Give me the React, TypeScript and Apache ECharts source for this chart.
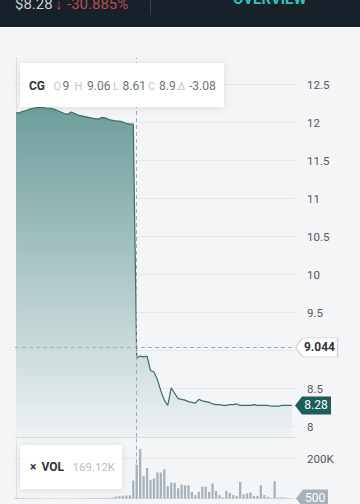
import React, { useEffect, useRef } from "react";
import * as echarts from "echarts";

// ---- data ----
const prices = [
  12.13, 12.13, 12.15, 12.16, 12.18, 12.19, 12.2, 12.2, 12.2, 12.19,
  12.19, 12.18, 12.16, 12.14, 12.12, 12.11, 12.14, 12.12, 12.1, 12.09,
  12.08, 12.07, 12.06, 12.05, 12.05, 12.07, 12.06, 12.04, 12.03, 12.02,
  12.02, 12.01, 11.99, 11.98, 11.98,
  8.9, 8.93, 8.92, 8.93, 8.74, 8.72, 8.62, 8.47, 8.35, 8.28,
  8.51, 8.44, 8.37, 8.36, 8.35, 8.33, 8.32, 8.31, 8.36, 8.34,
  8.33, 8.32, 8.3, 8.29, 8.29, 8.28, 8.28, 8.29, 8.29, 8.3,
  8.28, 8.28, 8.28, 8.28, 8.29, 8.28, 8.28, 8.28, 8.28, 8.27,
  8.27, 8.27, 8.28, 8.28, 8.28, 8.28,
];
const volumes = [
  4000, 3000, 3000, 0, 2000, 0, 2000, 0, 0, 0,
  1500, 0, 0, 0, 0, 0, 0, 1500, 0, 2000,
  0, 2500, 2000, 3000, 2500, 3500, 3000, 4000, 5000, 10000,
  12000, 14000, 15000, 16000, 90000,
  169120, 247000, 112000, 153000, 92000, 100000, 130000, 130000, 146000, 62000,
  79000, 79000, 51000, 70000, 66000, 66000, 33000, 17000, 33000, 59000,
  59000, 33000, 75000, 38000, 17000, 5000, 38000, 28000, 17000, 13000,
  83000, 20000, 25000, 30000, 13000, 13000, 66000, 17000, 8000, 3000,
  87000, 5000, 5000, 5000, 2000, 500,
];
// grid lines of the price axis, and the labels shown (9 is hidden under the crosshair tag)
const priceTicks = [8, 8.5, 9, 9.5, 10, 10.5, 11, 11.5, 12, 12.5];
const priceLabels = [8, 8.5, 9.5, 10, 10.5, 11, 11.5, 12, 12.5];
const volumeTicks = [200000];
const priceMin = 7.865;
const priceMax = 12.851;
const volumeMin = 0;
const volumeMax = 300000;
const indexMin = -0.3;
const indexMax = 80.9;
const crosshairIndex = 35;
const crosshairPrice = 9.044;
const lastPrice = 8.28;
const lastVolume = 500;
const tickerName = "CG";
const ohlcKeys = ["O", "H", "L", "C", "Δ"];
const ohlcValues = ["9", "9.06", "8.61", "8.9", "-3.08"];
const volName = "VOL";
const volValue = "169.12K";
const headerPrice = "$8.28";
const headerChange = "-30.885%";
const tabLabel = "OVERVIEW";

const FONT = "Roboto, 'Noto Sans', sans-serif";

function tagPath(w: number, h: number) {
  return `path://M0,${h / 2} L7,0 L${w},0 L${w},${h} L7,${h} Z`;
}

function txt(
  x: number,
  y: number,
  text: string,
  fill: string,
  size: number,
  weight: string | number = "normal"
) {
  return {
    type: "text",
    x,
    y,
    z: 100,
    silent: true,
    style: {
      text,
      fill,
      font: `${weight} ${size}px ${FONT}`,
      textVerticalAlign: "middle",
      textAlign: "left",
    },
  };
}

export default function App() {
  const ref = useRef<HTMLDivElement>(null);

  useEffect(() => {
    if (!ref.current) return;
    const chart = echarts.init(ref.current, undefined, { renderer: "svg" });

    const pricePairs = prices.map((v, i) => [i, v]);
    const volumePairs = volumes.map((v, i) => [i, v]);

    const dashed = { type: [4, 3], color: "#a3acb4", width: 1 };

    const keyXs = [53.5, 74.5, 113, 148, 177.5];
    const valueXs = [62.5, 87, 122.5, 159, 189];

    const graphics: any[] = [
      // header
      {
        type: "rect",
        z: 100,
        silent: true,
        shape: { x: 0, y: 0, width: 360, height: 27 },
        style: { fill: "#18212a" },
      },
      txt(15, 4, headerPrice, "#c9ced3", 15),
      txt(55, 4, "↓", "#cf4a4a", 15, "bold"),
      txt(67, 4, headerChange, "#b94c4e", 15),
      {
        type: "line",
        z: 100,
        silent: true,
        shape: { x1: 150.5, y1: 0, x2: 150.5, y2: 15 },
        style: { stroke: "#38424c", lineWidth: 1 },
      },
      txt(233, -1.5, tabLabel, "#2fc4bd", 15, "bold"),
      // OHLC box
      {
        type: "rect",
        z: 99,
        silent: true,
        shape: { x: 20, y: 63, width: 204, height: 44, r: 1 },
        style: {
          fill: "#ffffff",
          shadowBlur: 8,
          shadowColor: "rgba(0,0,0,0.10)",
          shadowOffsetY: 1,
        },
      },
      txt(29, 86, tickerName, "#2d3237", 12, "bold"),
      ...ohlcKeys.map((k, i) => txt(keyXs[i], 86, k, "#c2c7cc", 11)),
      ...ohlcValues.map((v, i) => txt(valueXs[i], 86, v, "#6d7379", 12)),
      // VOL box
      {
        type: "rect",
        z: 99,
        silent: true,
        shape: { x: 20, y: 445, width: 102, height: 44, r: 1 },
        style: {
          fill: "#ffffff",
          shadowBlur: 8,
          shadowColor: "rgba(0,0,0,0.10)",
          shadowOffsetY: 1,
        },
      },
      txt(30, 466.5, "×", "#2d3237", 12, "bold"),
      txt(41.5, 467, volName, "#2d3237", 12, "bold"),
      txt(72.5, 467, volValue, "#b9bec3", 11.5),
    ];

    const option: any = {
      animation: false,
      backgroundColor: "#f4f5f7",
      textStyle: { fontFamily: FONT },
      grid: [
        { left: 15, right: 65, top: 58, height: 379 },
        { left: 15, right: 65, top: 438.5, height: 60 },
      ],
      xAxis: [
        {
          type: "value",
          gridIndex: 0,
          min: indexMin,
          max: indexMax,
          axisLine: { show: true, onZero: false, lineStyle: { color: "#d6dbe0" } },
          axisTick: { show: false },
          axisLabel: { show: false },
          splitLine: { show: false },
        },
        {
          type: "value",
          gridIndex: 1,
          min: indexMin,
          max: indexMax,
          axisLine: { show: true, onZero: false, lineStyle: { color: "#dde1e5" } },
          axisTick: { show: false },
          axisLabel: { show: false },
          splitLine: { show: false },
        },
      ],
      yAxis: [
        {
          type: "value",
          gridIndex: 0,
          position: "right",
          min: priceMin,
          max: priceMax,
          axisLine: { show: true, lineStyle: { color: "#dfe3e7" } },
          axisTick: { show: false, customValues: priceTicks },
          axisLabel: {
            customValues: priceLabels,
            formatter: (v: number) => String(v),
            margin: 12,
            color: "#53585e",
            fontSize: 11.5,
            fontFamily: FONT,
          },
          splitLine: { show: true, lineStyle: { color: "#e3e6ea", width: 1 } },
        },
        {
          type: "value",
          gridIndex: 1,
          position: "right",
          min: volumeMin,
          max: volumeMax,
          axisLine: { show: true, lineStyle: { color: "#dfe3e7" } },
          axisTick: { show: false, customValues: volumeTicks },
          axisLabel: {
            customValues: volumeTicks,
            formatter: (v: number) => `${v / 1000}K`,
            margin: 12,
            color: "#53585e",
            fontSize: 11.5,
            fontFamily: FONT,
          },
          splitLine: { show: true, lineStyle: { color: "#e3e6ea", width: 1 } },
        },
      ],
      series: [
        {
          type: "line",
          xAxisIndex: 0,
          yAxisIndex: 0,
          data: pricePairs,
          symbol: "none",
          showSymbol: false,
          silent: true,
          lineStyle: { color: "#3e6c69", width: 1.2 },
          areaStyle: {
            color: new echarts.graphic.LinearGradient(0, 0, 0, 1, [
              { offset: 0, color: "#6e9e9b" },
              { offset: 0.5, color: "#adc7c7" },
              { offset: 1, color: "#eef2f3" },
            ]),
            opacity: 1,
          },
          markLine: {
            silent: true,
            symbol: ["none", "none"],
            label: { show: false },
            lineStyle: dashed,
            data: [{ xAxis: crosshairIndex }, { yAxis: crosshairPrice }],
          },
          markPoint: {
            silent: true,
            data: [
              {
                coord: [indexMax, crosshairPrice],
                symbol: tagPath(42, 19),
                symbolSize: [42, 19],
                symbolOffset: [21.5, 0],
                itemStyle: { color: "#ffffff", borderColor: "#cfd5da", borderWidth: 1 },
                label: {
                  show: true,
                  position: "inside",
                  offset: [3, 0],
                  formatter: String(crosshairPrice),
                  color: "#2f3439",
                  fontSize: 12,
                  fontWeight: "bold",
                  fontFamily: FONT,
                },
              },
              {
                coord: [indexMax, lastPrice],
                symbol: tagPath(36, 18),
                symbolSize: [36, 18],
                symbolOffset: [18, 0],
                itemStyle: { color: "#1e5d5a" },
                label: {
                  show: true,
                  position: "inside",
                  offset: [3, 0],
                  formatter: String(lastPrice),
                  color: "#ffffff",
                  fontSize: 12,
                  fontFamily: FONT,
                },
              },
            ],
          },
        },
        {
          type: "bar",
          xAxisIndex: 1,
          yAxisIndex: 1,
          data: volumePairs,
          barWidth: 2.3,
          silent: true,
          itemStyle: { color: "#a7b3bc" },
          markLine: {
            silent: true,
            symbol: ["none", "none"],
            label: { show: false },
            lineStyle: dashed,
            data: [{ xAxis: crosshairIndex }],
          },
          markPoint: {
            silent: true,
            data: [
              {
                coord: [indexMax, lastVolume],
                symbol: tagPath(32, 18),
                symbolSize: [32, 18],
                symbolOffset: [17, 0],
                itemStyle: { color: "#a6b1ba" },
                label: {
                  show: true,
                  position: "inside",
                  offset: [3, 0],
                  formatter: String(lastVolume),
                  color: "#ffffff",
                  fontSize: 12,
                  fontFamily: FONT,
                },
              },
            ],
          },
        },
      ],
      graphic: graphics,
    };

    chart.setOption(option);
    return () => chart.dispose();
  }, []);

  return (
    <div
      ref={ref}
      style={{ position: "fixed", left: 0, top: 0, width: 360, height: 504 }}
    />
  );
}
